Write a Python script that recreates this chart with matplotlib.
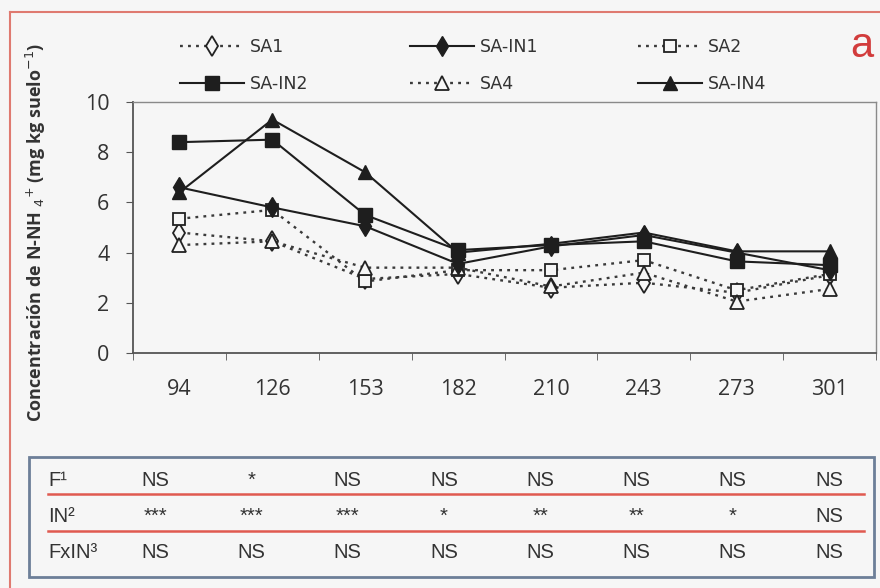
import matplotlib.pyplot as plt
import numpy as np
from matplotlib import font_manager
from matplotlib.lines import Line2D
from matplotlib.patches import Rectangle

# days after sowing
dias = ["94", "126", "153", "182", "210", "243", "273", "301"]

sa1 = [4.8, 4.45, 2.95, 3.15, 2.6, 2.8, 2.4, 3.1]
sa_in1 = [6.6, 5.8, 5.05, 3.55, 4.25, 4.7, 4.0, 3.3]
sa2 = [5.35, 5.7, 2.85, 3.3, 3.3, 3.7, 2.5, 3.15]
sa_in2 = [8.4, 8.5, 5.5, 4.1, 4.3, 4.45, 3.65, 3.5]
sa4 = [4.3, 4.45, 3.4, 3.4, 2.65, 3.2, 2.05, 2.55]
sa_in4 = [6.4, 9.3, 7.2, 4.0, 4.35, 4.8, 4.05, 4.05]

# significance table
tab_rows = ["F\u00b9", "IN\u00b2", "FxIN\u00b3"]
tab_f = ["NS", "*", "NS", "NS", "NS", "NS", "NS", "NS"]
tab_in = ["***", "***", "***", "*", "**", "**", "*", "NS"]
tab_fxin = ["NS", "NS", "NS", "NS", "NS", "NS", "NS", "NS"]

BG = "#f6f6f6"
W, H = 880, 588


def fx(px):
    return px / W


def fy(py):
    return 1 - py / H


# narrow font for the table if there is one
try:
    font_manager.findfont("Liberation Sans Narrow", fallback_to_default=False)
    tfont, tsize = "Liberation Sans Narrow", 16.5
except ValueError:
    tfont, tsize = "Liberation Sans", 14.5

plt.rcParams["font.family"] = ["DejaVu Sans"]

fig = plt.figure(figsize=(8.8, 5.88), dpi=100, facecolor=BG)
ax = fig.add_axes((fx(133), fy(353), fx(876 - 133), (353 - 102) / H))
ax.set_facecolor(BG)

x = np.arange(len(dias))
dot = (0, (1.2, 2.2))
open_kw = dict(color="#3a3a3a", lw=1.7, ls=dot, mfc=BG, mec="#222222", mew=1.3)
fill_kw = dict(color="#1e1e1e", lw=1.5, ls="-", mfc="#1e1e1e", mec="#1e1e1e")

h_sa1, = ax.plot(x, sa1, marker="d", ms=10, label="SA1", **open_kw)
h_sa2, = ax.plot(x, sa2, marker="s", ms=9, label="SA2", **open_kw)
h_sa4, = ax.plot(x, sa4, marker="^", ms=10, label="SA4", **open_kw)
h_in1, = ax.plot(x, sa_in1, marker="d", ms=10, label="SA-IN1", **fill_kw)
h_in2, = ax.plot(x, sa_in2, marker="s", ms=10, label="SA-IN2", **fill_kw)
h_in4, = ax.plot(x, sa_in4, marker="^", ms=10, label="SA-IN4", **fill_kw)

ax.set_xlim(-0.5, len(dias) - 0.5)
ax.set_ylim(0, 10)
ax.set_yticks([0, 2, 4, 6, 8, 10])
ax.set_xticks(x)
ax.set_xticklabels(dias)
ax.set_xticks(np.arange(len(dias) + 1) - 0.5, minor=True)
for lab in ax.get_xticklabels() + ax.get_yticklabels():
    lab.set_family(["Open Sans", "DejaVu Sans"])
ax.tick_params(axis="x", which="major", length=0, pad=19, labelsize=15.5, labelcolor="#333333")
ax.tick_params(axis="x", which="minor", length=5, color="#555555", direction="out")
ax.tick_params(axis="y", length=5, pad=12, labelsize=15.5, labelcolor="#333333", color="#555555")
for s in ["left", "bottom"]:
    ax.spines[s].set_color("#555555")
    ax.spines[s].set_linewidth(1.3)
for s in ["top", "right"]:
    ax.spines[s].set_color("#8a8a8a")
    ax.spines[s].set_linewidth(1.0)

fig.text(fx(36), fy(232), "Concentración de N-NH $_{4}$$^{+}$ (mg kg suelo$^{-1}$)",
         rotation=90, ha="center", va="center", fontsize=13, fontweight="bold",
         family=["Open Sans", "DejaVu Sans"], color="#333333")

# legend, three columns of two rows
leg_kw = dict(loc="upper left", frameon=False, fontsize=12.5, handlelength=3.7,
              handletextpad=0.35, labelspacing=1.1, borderpad=0, borderaxespad=0,
              labelcolor="#333333")
for xpos, hs in [(180, [h_sa1, h_in2]), (410, [h_in1, h_sa4]), (638, [h_sa2, h_in4])]:
    fig.legend(handles=hs, bbox_to_anchor=(fx(xpos), fy(38)), **leg_kw)

fig.text(fx(862), fy(46), "a", color="#d23c3c", fontsize=30,
         family=[tfont, "DejaVu Sans"], ha="center", va="center")

# outer red frame (cut off on the right and bottom)
fig.add_artist(Line2D([fx(10), 1.0], [fy(12), fy(12)], color="#df7a70", lw=1.5))
fig.add_artist(Line2D([fx(10), fx(10)], [fy(12), 0.0], color="#df7a70", lw=1.5))

# significance table
fig.add_artist(Rectangle((fx(29), fy(577)), fx(874 - 29), (577 - 457) / H,
                         fill=False, ec="#6d7f98", lw=2.0))
for yl in [494, 531]:
    fig.add_artist(Line2D([fx(48), fx(864)], [fy(yl), fy(yl)], color="#e05a50", lw=1.8))
col_x = np.linspace(155, 829, len(dias))
for yrow, lab, vals in zip([480, 516, 552], tab_rows, [tab_f, tab_in, tab_fxin]):
    fig.text(fx(48), fy(yrow), lab, family=[tfont, "DejaVu Sans"], fontsize=tsize,
             color="#333333", ha="left", va="center")
    for cx, v in zip(col_x, vals):
        fig.text(fx(cx), fy(yrow), v, family=[tfont, "DejaVu Sans"], fontsize=tsize,
                 color="#333333", ha="center", va="center")

fig.savefig("out.png", dpi=100, facecolor=BG)
